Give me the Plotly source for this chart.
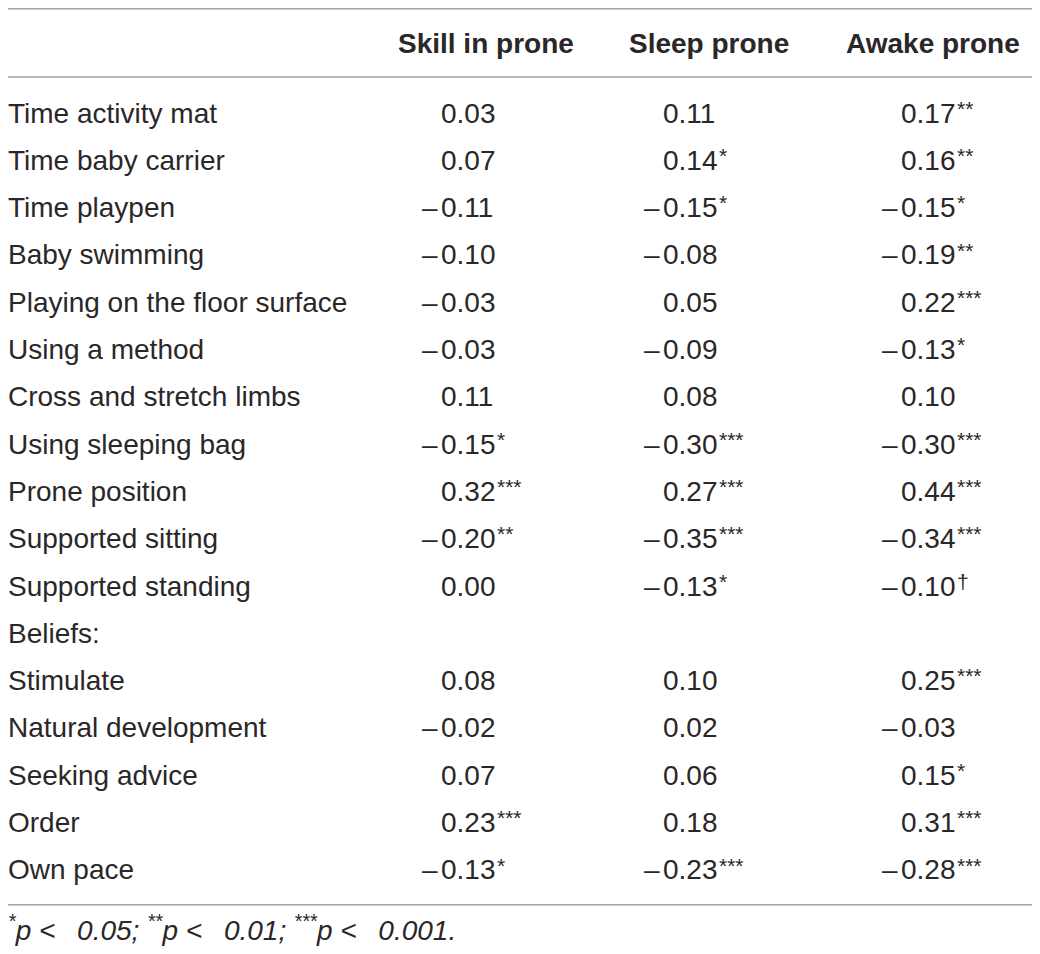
import plotly.graph_objects as go

# ---------------------------------------------------------------
# Table data
# ---------------------------------------------------------------
columns = ["Skill in prone", "Sleep prone", "Awake prone"]

labels = ["Time activity mat", "Time baby carrier", "Time playpen",
          "Baby swimming", "Playing on the floor surface", "Using a method",
          "Cross and stretch limbs", "Using sleeping bag", "Prone position",
          "Supported sitting", "Supported standing", "Beliefs:",
          "Stimulate", "Natural development", "Seeking advice", "Order",
          "Own pace"]

skill = [0.03, 0.07, -0.11, -0.10, -0.03, -0.03, 0.11, -0.15, 0.32, -0.20,
         0.00, None, 0.08, -0.02, 0.07, 0.23, -0.13]
skill_sig = ["", "", "", "", "", "", "", "*", "***", "**",
             "", "", "", "", "", "***", "*"]

sleep = [0.11, 0.14, -0.15, -0.08, 0.05, -0.09, 0.08, -0.30, 0.27, -0.35,
         -0.13, None, 0.10, 0.02, 0.06, 0.18, -0.23]
sleep_sig = ["", "*", "*", "", "", "", "", "***", "***", "***",
             "*", "", "", "", "", "", "***"]

awake = [0.17, 0.16, -0.15, -0.19, 0.22, -0.13, 0.10, -0.30, 0.44, -0.34,
         -0.10, None, 0.25, -0.03, 0.15, 0.31, -0.28]
awake_sig = ["**", "**", "*", "**", "***", "*", "", "***", "***", "***",
             "\u2020", "", "***", "", "*", "***", "***"]

footnote = ("<i><sup>*</sup>p &lt;\u2002 0.05; <sup>**</sup>p &lt;\u2002 0.01; "
            "<sup>***</sup>p &lt;\u2002 0.001.</i>")

#---------------------------
# Layout helpers
# (x in page pixels, y in row units)
#---------------------------
FONT = "Liberation Sans"
TXT = "#2a2728"
RULE = "#a3a3a3"

label_x = 9
digit_x = [442, 664, 902]        # left edge of the leading "0"
header_x = [486, 709, 933]
header_y = -1.48
foot_y = 17.22
rules_y = [-2.204, -0.76, 16.74]
star_dy = -0.1

values = [(skill, skill_sig), (sleep, sleep_sig), (awake, awake_sig)]

fig = go.Figure()
fig.add_trace(go.Scatter(x=[100, 900], y=[0, 0], mode="markers",
                         marker=dict(opacity=0), hoverinfo="skip",
                         showlegend=False))

annotations = []

def ann(text, x, y, anchor, size=28, bold=False, shift=0):
    annotations.append(dict(text=text, x=x, y=y, xref="x", yref="y",
                            xanchor=anchor, yanchor="middle", showarrow=False,
                            xshift=shift,
                            font=dict(family=FONT, size=size, color=TXT,
                                      weight="bold" if bold else "normal")))

for name, hx in zip(columns, header_x):
    ann(name, hx, header_y, "center", bold=True)

for i, name in enumerate(labels):
    ann(name, label_x, i, "left", shift=-3)

for (vals, sigs), dx in zip(values, digit_x):
    for i, (v, s) in enumerate(zip(vals, sigs)):
        if v is None:
            continue
        ann("%.2f" % abs(v), dx - 3, i, "left")
        if v < 0:
            ann("\u2013", dx - 2, i, "right")
        if s:
            ann(s, dx + 53, i + star_dy, "left", size=21)

ann(footnote, label_x, foot_y, "left", size=28, shift=-3)

shapes = [dict(type="line", xref="x", yref="y", x0=0, x1=1040, y0=ry, y1=ry,
               line=dict(color=RULE, width=1.5)) for ry in rules_y]

# page body keeps an 8px margin, so the figure is 16px smaller than the window
fig.update_layout(width=1024, height=938,
                  margin=dict(l=0, r=0, t=0, b=0),
                  paper_bgcolor="white", plot_bgcolor="white",
                  annotations=annotations, shapes=shapes,
                  xaxis=dict(range=[8, 1032], visible=False, fixedrange=True),
                  yaxis=dict(range=[17.611, -2.2199], visible=False,
                             fixedrange=True))

fig.write_html("out.html")
